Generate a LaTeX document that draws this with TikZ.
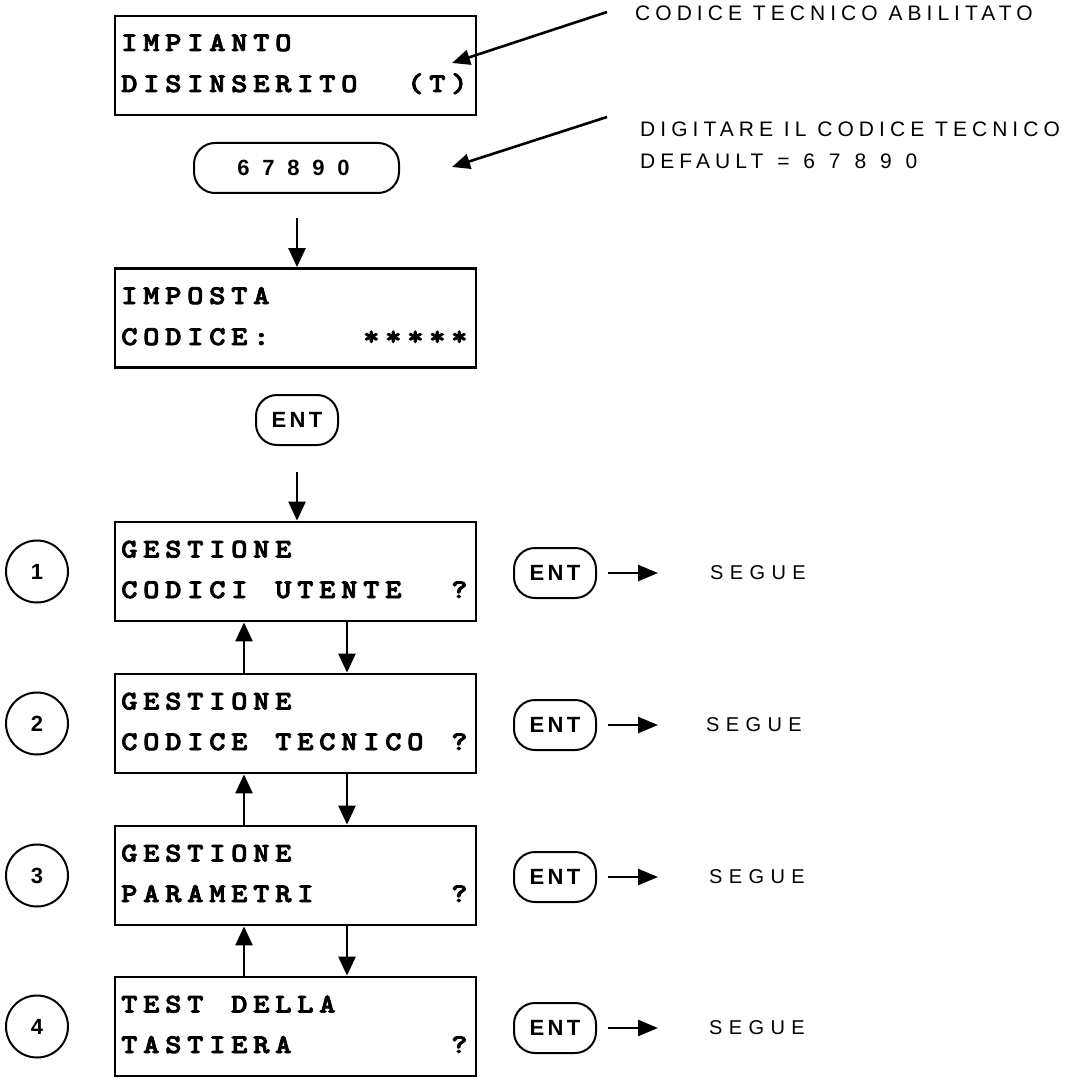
\documentclass[tikz,border=0pt]{standalone}
\usepackage{fontspec}
\setmainfont{Liberation Sans}
\newfontfamily\keyfont[LetterSpace=15]{Liberation Sans}
\newfontfamily\notefont[LetterSpace=24]{Liberation Sans}
\newfontfamily\seguefont[LetterSpace=32]{Liberation Sans}
\newfontfamily\lcdfont[FakeBold=3,FakeStretch=1.15]{lmmonolt10-bold.otf}
\usetikzlibrary{arrows.meta}
\ExplSyntaxOn
\NewDocumentCommand\lcdline{m}{\tl_map_inline:nn{#1}{\makebox[22pt][l]{##1}}}
\ExplSyntaxOff
\newcommand\digsp{\hspace*{12.8pt}}
\newcommand\dsp{\ \hspace*{3pt}}
\begin{document}
\begin{tikzpicture}[x=1pt,y=-1pt,
  lcd/.style={draw, line width=2.8pt, minimum width=361pt, minimum height=99pt, inner sep=0pt},
  lcdtxt/.style={anchor=base west, inner sep=0pt, font=\lcdfont\fontsize{27}{27}\selectfont},
  keybox/.style={draw, line width=2pt, rounded corners=21pt, minimum height=50pt, inner sep=0pt, font=\keyfont\bfseries\fontsize{22}{22}\selectfont},
  numc/.style={draw, circle, line width=2pt, minimum size=62pt, inner sep=0pt, font=\bfseries\fontsize{22}{22}\selectfont},
  varr/.style={line width=2.6pt, -{Triangle[length=19pt,width=17pt]}},
  harr/.style={line width=2.6pt, -{Triangle[length=20pt,width=16pt]}},
  darr/.style={line width=2.6pt, -{Triangle[length=18pt,width=15pt]}},
  note/.style={anchor=base west, inner sep=0pt, font=\notefont\fontsize{21}{21}\selectfont},
  segue/.style={anchor=west, inner sep=0pt, font=\seguefont\fontsize{20}{20}\selectfont}
]
\useasboundingbox (0,0) rectangle (1066,1078);

% top display
\node[lcd] (b0) at (295.5,65.5) {};
\node[lcdtxt] (b0a) at (121,51) {\lcdline{IMPIANTO}};
\node[lcdtxt] (b0b) at (121,92) {\lcdline{DISINSERITO~~(T)}};

% code key
\node[keybox, minimum width=205pt] (k0) at (296.5,168) {\bfseries\fontsize{22}{22}\selectfont\hspace*{-6pt}6\digsp7\digsp8\digsp9\digsp0};

% impostare codice
\node[lcd] (b1) at (295.5,318) {};
\node[lcdtxt] (b1a) at (121,304) {\lcdline{IMPOSTA}};
\node[lcdtxt] (b1b) at (121,345) {\lcdline{CODICE:~~~~*****}};

\node[keybox, minimum width=82pt] (ke) at (297,420) {ENT};

% menu displays
\node[lcd] (g1) at (295.5,571.5) {};
\node[lcdtxt] (g1a) at (121,557.5) {\lcdline{GESTIONE}};
\node[lcdtxt] (g1b) at (121,598) {\lcdline{CODICI~UTENTE~~?}};

\node[lcd] (g2) at (295.5,723.5) {};
\node[lcdtxt] (g2a) at (121,709.5) {\lcdline{GESTIONE}};
\node[lcdtxt] (g2b) at (121,750) {\lcdline{CODICE~TECNICO~?}};

\node[lcd] (g3) at (295.5,875.5) {};
\node[lcdtxt] (g3a) at (121,861.5) {\lcdline{GESTIONE}};
\node[lcdtxt] (g3b) at (121,902) {\lcdline{PARAMETRI~~~~~~?}};

\node[lcd] (g4) at (295.5,1026.5) {};
\node[lcdtxt] (g4a) at (121,1012.5) {\lcdline{TEST~DELLA}};
\node[lcdtxt] (g4b) at (121,1053) {\lcdline{TASTIERA~~~~~~~?}};

% numbers
\node[numc] (n1) at (37,571.5) {1};
\node[numc] (n2) at (37,723.5) {2};
\node[numc] (n3) at (37,875.5) {3};
\node[numc] (n4) at (37,1026.5) {4};

% ENT keys on the right
\node[keybox, minimum width=82pt] (e1) at (555,573) {ENT};
\node[keybox, minimum width=82pt] (e2) at (555,725) {ENT};
\node[keybox, minimum width=82pt] (e3) at (555,877) {ENT};
\node[keybox, minimum width=82pt] (e4) at (555,1028) {ENT};

\node[segue] (s1) at (710,573) {SEGUE};
\node[segue] (s2) at (706,725) {SEGUE};
\node[segue] (s3) at (709,877) {SEGUE};
\node[segue] (s4) at (709,1028) {SEGUE};

\foreach \i in {1,2,3,4}{
  \draw[harr, shorten <=11pt] (e\i.east) -- (658,0 |- e\i.east);
}

% notes
\node[note] (t1) at (635,21) {CODICE TECNICO ABILITATO};
\node[note] (t2) at (640,137) {DIGITARE IL CODICE TECNICO};
\node[note] (t3) at (640,168) {DEFAULT\dsp=\dsp6\dsp7\dsp8\dsp9\dsp0};

\coordinate (c1) at (607,12);
\coordinate (c1t) at (452,63);
\coordinate (c2) at (607,117);
\coordinate (c2t) at (452,167);
\draw[darr] (c1) -- (c1t);
\draw[darr] (c2) -- (c2t);

% vertical arrows
\coordinate (a0) at (297,218);
\draw[varr] (a0) -- (b1.north -| a0);
\coordinate (a1) at (297,472);
\draw[varr] (a1) -- (g1.north -| a1);

\foreach \u/\l in {g1/g2, g2/g3, g3/g4}{
  \draw[varr] (\l.north -| 244,0) -- (\u.south -| 244,0);
  \draw[varr] (\u.south -| 347,0) -- (\l.north -| 347,0);
}
\end{tikzpicture}
\end{document}
